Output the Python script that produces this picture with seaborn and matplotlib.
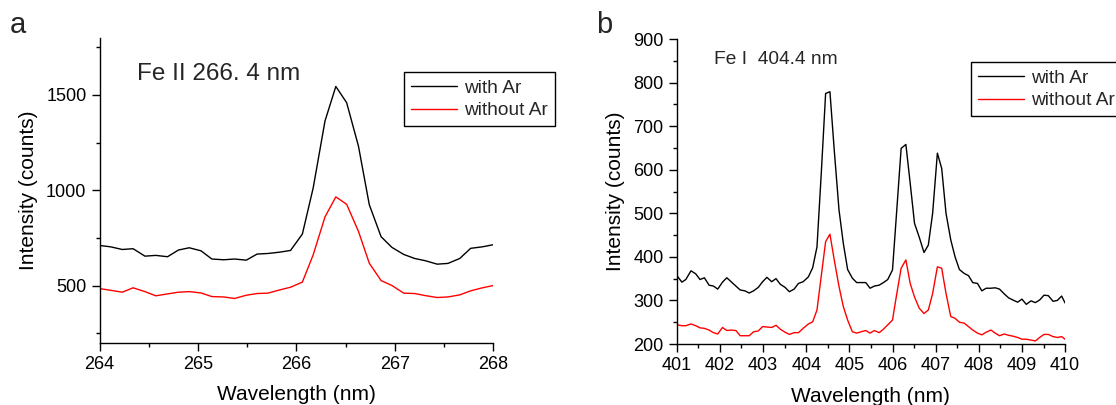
import numpy as np
import pandas as pd
import matplotlib as mpl
mpl.use("Agg")
import matplotlib.pyplot as plt
from matplotlib.ticker import MultipleLocator
import seaborn as sns

# panel a: Fe II 266.4 nm
wl_a = [264.00, 264.11, 264.23, 264.34, 264.46, 264.57, 264.69, 264.80, 264.91,
        265.03, 265.14, 265.26, 265.37, 265.49, 265.60, 265.71, 265.83, 265.94,
        266.06, 266.17, 266.29, 266.40, 266.51, 266.63, 266.74, 266.86, 266.97,
        267.09, 267.20, 267.31, 267.43, 267.54, 267.66, 267.77, 267.89, 268.00]
with_ar_a = [710, 703, 689, 693, 654, 658, 651, 686, 698,
             682, 639, 635, 639, 633, 665, 668, 675, 684,
             770, 1012, 1363, 1544, 1459, 1231, 924, 756, 700,
             663, 642, 630, 612, 616, 642, 695, 703, 714]
without_ar_a = [484, 475, 465, 488, 468, 446, 456, 465, 468,
                461, 442, 440, 432, 449, 458, 460, 477, 491,
                518, 661, 860, 965, 926, 784, 617, 526, 500,
                460, 458, 447, 437, 440, 451, 472, 488, 500]

# panel b: Fe I 404.4 nm
wl_b = [401.01, 401.12, 401.21, 401.33, 401.44, 401.54, 401.64, 401.75, 401.85, 401.95,
        402.06, 402.16, 402.26, 402.37, 402.47, 402.58, 402.68, 402.78, 402.89, 402.99,
        403.09, 403.20, 403.30, 403.40, 403.51, 403.61, 403.72, 403.82, 403.93, 404.05,
        404.15, 404.25, 404.35, 404.45, 404.55, 404.65, 404.76, 404.86, 404.96, 405.07,
        405.17, 405.27, 405.38, 405.48, 405.58, 405.69, 405.79, 405.89, 406.00, 406.10,
        406.20, 406.31, 406.41, 406.51, 406.62, 406.73, 406.83, 406.93, 407.04, 407.14,
        407.24, 407.35, 407.45, 407.55, 407.66, 407.76, 407.86, 407.97, 408.07, 408.17,
        408.28, 408.38, 408.48, 408.59, 408.69, 408.79, 408.90, 409.00, 409.10, 409.21,
        409.31, 409.41, 409.51, 409.61, 409.72, 409.82, 409.92, 410.00]
with_ar_b = [356, 342, 348, 368, 361, 348, 352, 335, 333, 326,
             342, 352, 343, 333, 324, 322, 317, 322, 330, 343,
             353, 343, 350, 337, 330, 320, 326, 339, 343, 354,
             375, 423, 593, 775, 779, 645, 508, 431, 371, 351,
             341, 341, 341, 328, 333, 335, 341, 348, 370, 509,
             649, 658, 569, 477, 445, 410, 427, 500, 638, 603,
             500, 439, 400, 371, 362, 357, 341, 339, 322, 328,
             328, 329, 326, 315, 306, 301, 296, 303, 291, 299,
             295, 301, 312, 311, 298, 300, 310, 294]
without_ar_b = [244, 242, 242, 246, 242, 237, 236, 232, 226, 223,
                238, 231, 232, 231, 219, 219, 219, 228, 230, 240,
                239, 238, 243, 234, 227, 222, 226, 226, 236, 246,
                251, 278, 357, 435, 452, 393, 332, 286, 255, 228,
                225, 228, 231, 225, 231, 226, 234, 244, 255, 316,
                374, 393, 339, 308, 282, 270, 278, 316, 377, 374,
                316, 263, 259, 250, 248, 240, 232, 225, 221, 227,
                232, 225, 219, 223, 220, 218, 215, 211, 211, 209,
                207, 215, 222, 222, 217, 215, 217, 211]

series_names = ["with Ar", "without Ar"]
colors = {"with Ar": "black", "without Ar": "red"}


def long_frame(wl, y_with, y_without):
    return pd.concat([
        pd.DataFrame({"wl": wl, "counts": y_with, "series": series_names[0]}),
        pd.DataFrame({"wl": wl, "counts": y_without, "series": series_names[1]}),
    ], ignore_index=True)


sns.set_theme(style="white")
plt.rcParams["font.family"] = ["Liberation Sans", "DejaVu Sans"]
plt.rcParams["axes.linewidth"] = 1.0

fig = plt.figure(figsize=(11.16, 4.05), dpi=100)
ax_a = fig.add_axes([0.0893, 0.1538, 0.3527, 0.7532])
ax_b = fig.add_axes([0.6064, 0.1506, 0.3480, 0.7531])

panels = [
    (ax_a, long_frame(wl_a, with_ar_a, without_ar_a), (264, 268), (200, 1800), 500, 1.0),
    (ax_b, long_frame(wl_b, with_ar_b, without_ar_b), (401, 410), (200, 900), 100, 1.0),
]

for ax, df, xlim, ylim, ystep, xstep in panels:
    sns.lineplot(data=df, x="wl", y="counts", hue="series", hue_order=series_names,
                 palette=colors, linewidth=1.0, ax=ax, estimator=None, sort=False)
    ax.set_xlim(*xlim)
    ax.set_ylim(*ylim)
    ax.xaxis.set_major_locator(MultipleLocator(xstep))
    ax.xaxis.set_minor_locator(MultipleLocator(xstep / 2))
    ax.yaxis.set_major_locator(MultipleLocator(ystep))
    ax.yaxis.set_minor_locator(MultipleLocator(ystep / 2))
    for side in ["top", "right"]:
        ax.spines[side].set_visible(False)
    for side in ["left", "bottom"]:
        ax.spines[side].set_color("black")
    ax.tick_params(which="major", direction="out", length=5.5, width=1.0,
                   color="black", labelsize=13, labelcolor="black", pad=4,
                   bottom=True, left=True)
    ax.tick_params(which="minor", direction="out", length=3, width=1.0,
                   color="black", bottom=True, left=True)
    ax.set_xlabel("Wavelength (nm)", fontsize=15, color="black", labelpad=9)
    ax.set_ylabel("Intensity (counts)", fontsize=15, color="black", labelpad=6)
    ax.grid(False)

# legends (the right one runs off the figure edge, as in the source)
for ax, anchor in [(ax_a, (0.3623, 0.8215)), (ax_b, (0.8698, 0.8462))]:
    handles, labels = ax.get_legend_handles_labels()
    leg = ax.legend(handles, labels, loc="upper left", bbox_to_anchor=anchor,
                    bbox_transform=fig.transFigure, fontsize=13.8, frameon=True,
                    fancybox=False, shadow=False, framealpha=1, borderaxespad=0,
                    handlelength=2.4, handletextpad=0.37, borderpad=0.36,
                    labelspacing=0.28)
    leg.get_frame().set_edgecolor("black")
    leg.get_frame().set_linewidth(1.0)
    for line in leg.get_lines():
        line.set_linewidth(1.0)

fig.text(137 / 1116, 1 - 80 / 405, "Fe II 266. 4 nm", fontsize=17.5, va="baseline", ha="left")
fig.text(714 / 1116, 1 - 64 / 405, "Fe I  404.4 nm", fontsize=13.8, va="baseline", ha="left")
fig.text(10 / 1116, 1 - 33 / 405, "a", fontsize=21, va="baseline", ha="left")
fig.text(596 / 1116, 1 - 33 / 405, "b", fontsize=21, va="baseline", ha="left")

fig.savefig("out.png", dpi=100)
